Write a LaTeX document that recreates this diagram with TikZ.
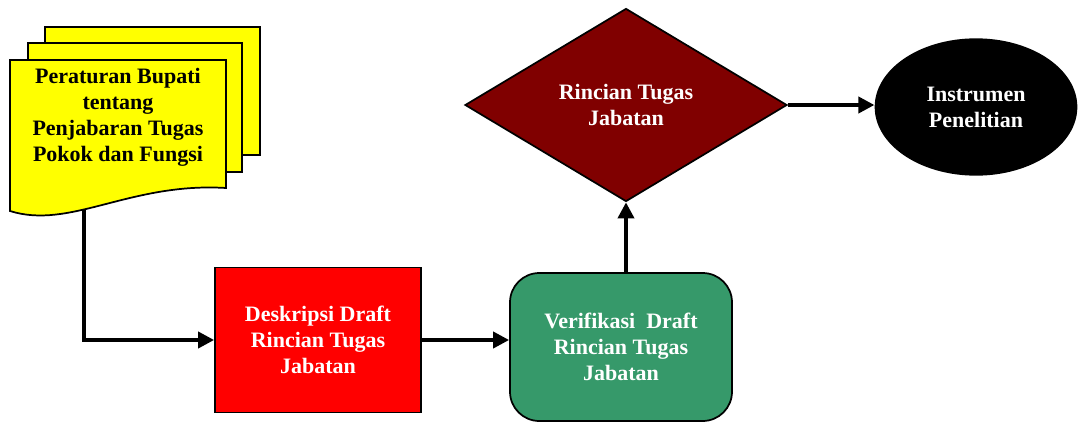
\documentclass[tikz,border=0pt]{standalone}
\usepackage{fontspec}
\setmainfont{Liberation Serif}
\definecolor{docyellow}{RGB}{255,255,0}
\definecolor{draftred}{RGB}{255,0,0}
\definecolor{verigreen}{RGB}{54,153,106}
\definecolor{rincianred}{RGB}{128,0,0}
\usetikzlibrary{positioning, arrows.meta, shapes.geometric}

\tikzset{
  boxtext/.style={font=\fontsize{16.5}{19.5}\selectfont\bfseries, align=center, text=white},
  sheet/.style={fill=docyellow, draw=black, line width=1.3pt},
  flow/.style={line width=2.8pt, -{Triangle[length=12pt, width=12pt]}},
}

\begin{document}
\begin{tikzpicture}[x=0.75pt, y=-0.75pt]
\useasboundingbox (0,0) rectangle (1081,421);

% --- Document stack ---
\filldraw[sheet] (45,27) rectangle (260,155);
\filldraw[sheet] (28,43) rectangle (242,172);
\filldraw[sheet] (10,60) -- (226,60) -- (226,188)
  .. controls (130,182) and (70,230) .. (10,211) -- cycle;
\node[boxtext, text=black] (perbup) at (118,117) {Peraturan Bupati\\tentang\\Penjabaran Tugas\\Pokok dan Fungsi};
\coordinate (docend) at (84,209);

% --- Process boxes ---
\node[boxtext, fill=draftred, draw=black, line width=1.3pt, minimum width=154.5pt, minimum height=108.75pt] (deskripsi) at (318,340) {Deskripsi Draft\\Rincian Tugas\\Jabatan};
\node[boxtext, fill=verigreen, draw=black, line width=1.3pt, rounded corners=22pt, minimum width=166.5pt, minimum height=111pt] (verifikasi) at (621,347) {Verifikasi~~Draft\\Rincian Tugas\\Jabatan};

% --- Decision and result ---
\node[boxtext, diamond, fill=rincianred, draw=black, line width=1.3pt, inner sep=0pt, minimum width=241.5pt, minimum height=144.75pt] (rincian) at (626,105) {Rincian Tugas\\Jabatan};
\node[boxtext, ellipse, fill=black, minimum width=152pt, minimum height=103pt] (instrumen) at (976,107) {Instrumen\\Penelitian};

% --- Connectors ---
\draw[flow] (docend) |- (deskripsi.west);
\draw[flow] (deskripsi.east) -- (deskripsi.east -| verifikasi.west);
\draw[flow] (rincian.south |- verifikasi.north) -- (rincian.south);
\draw[flow] (rincian.east) -- (rincian.east -| instrumen.west);

\end{tikzpicture}
\end{document}
